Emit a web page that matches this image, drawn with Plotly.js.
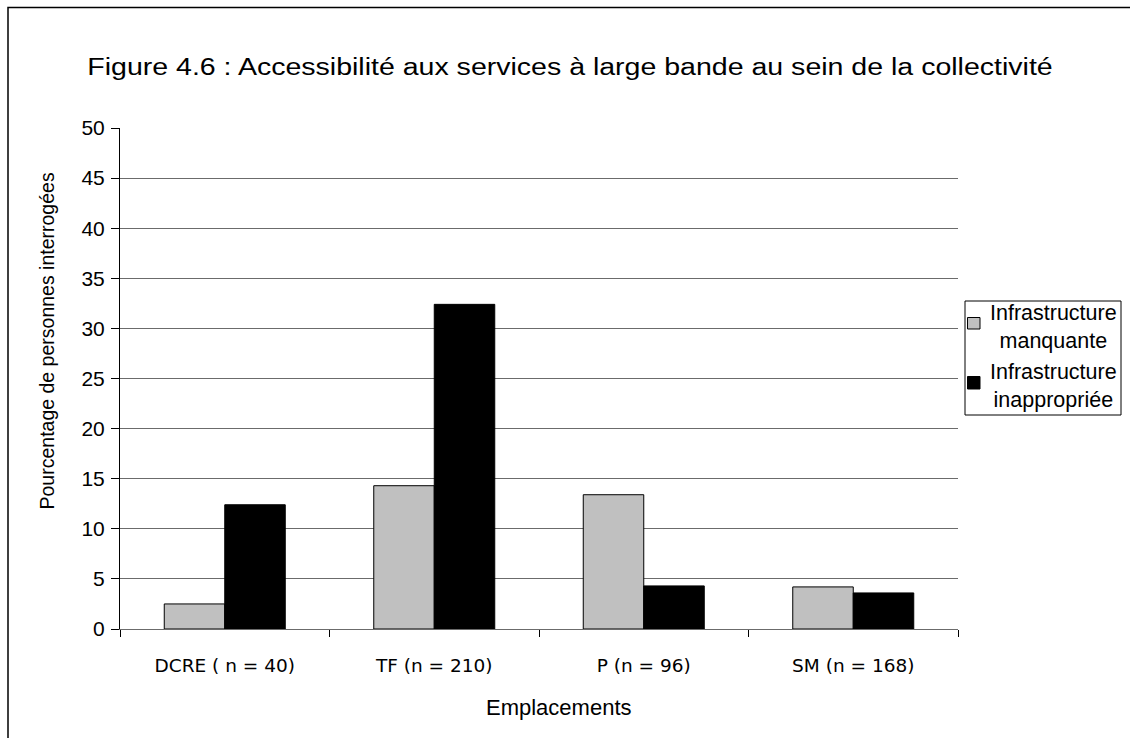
<!DOCTYPE html>
<html>
<head>
<meta charset="utf-8">
<script src="https://cdn.plot.ly/plotly-3.0.1.min.js"></script>
<style>
  html, body { margin: 0; padding: 0; background: #ffffff; }
  #chart { width: 1130px; height: 738px; }
</style>
</head>
<body>
<div id="chart"></div>
<script>
// ---- data ----
const categories = ['DCRE ( n = 40)', 'TF (n = 210)', 'P (n = 96)', 'SM (n = 168)'];
const manquante = [2.5, 14.3, 13.4, 4.2];
const inappropriee = [12.4, 32.4, 4.3, 3.6];
const seriesNames = ['Infrastructure manquante', 'Infrastructure inappropriée'];
const legendLabels = ['Infrastructure<br>manquante', 'Infrastructure<br>inappropriée'];
const yTickVals = [0, 5, 10, 15, 20, 25, 30, 35, 40, 45, 50];
const titleText = 'Figure 4.6 : Accessibilité aux services à large bande au sein de la collectivité';
const xTitleText = 'Emplacements';
const yTitleText = 'Pourcentage de personnes interrogées';

// ---- layout geometry ----
const W = 1130, H = 738;
const ML = 120, MR = 172, MT = 128, MB = 109;
const PW = W - ML - MR, PH = H - MT - MB;
const px = v => (v - ML) / PW;          // page pixel x -> paper x
const py = v => (MT + PH - v) / PH;     // page pixel y -> paper y

const sans = 'Liberation Sans, Arial, Helvetica, sans-serif';
const tickFont = 'DejaVu Sans, Verdana, sans-serif';
const colors = ['#c0c0c0', '#000000'];

const traces = [
  {
    type: 'bar', name: seriesNames[0], x: categories, y: manquante,
    marker: { color: colors[0], line: { color: '#000000', width: 1 } },
    showlegend: false, hoverinfo: 'x+y'
  },
  {
    type: 'bar', name: seriesNames[1], x: categories, y: inappropriee,
    marker: { color: colors[1], line: { color: '#000000', width: 1 } },
    showlegend: false, hoverinfo: 'x+y'
  }
];

const shapes = [
  // outer frame (top and left edges visible)
  { type: 'path', xref: 'paper', yref: 'paper',
    path: `M ${px(8)} ${py(745)} L ${px(8)} ${py(7.5)} L ${px(1140)} ${py(7.5)}`,
    line: { color: '#000000', width: 1.5 } },
  // legend box
  { type: 'rect', xref: 'paper', yref: 'paper',
    x0: px(965), x1: px(1121), y0: py(301), y1: py(415),
    line: { color: '#000000', width: 1 }, fillcolor: 'rgba(0,0,0,0)' },
  // legend swatches
  { type: 'rect', xref: 'paper', yref: 'paper',
    x0: px(967.5), x1: px(980), y0: py(317.5), y1: py(329),
    line: { color: '#000000', width: 1 }, fillcolor: colors[0] },
  { type: 'rect', xref: 'paper', yref: 'paper',
    x0: px(967.5), x1: px(980), y0: py(376.5), y1: py(389),
    line: { color: '#000000', width: 1 }, fillcolor: colors[1] }
];

const legendY = [327, 386];
const annotations = [];
legendLabels.forEach((t, i) => {
  annotations.push({
    xref: 'paper', yref: 'paper', x: px(1053), y: py(legendY[i]),
    xanchor: 'center', yanchor: 'middle', align: 'center', showarrow: false, text: t,
    font: { family: sans, size: 21.5, color: '#000000' }
  });
});
annotations.push({
  xref: 'paper', yref: 'paper', x: px(558.5), y: py(707),
  xanchor: 'center', yanchor: 'middle', showarrow: false, text: xTitleText,
  font: { family: sans, size: 22, color: '#000000' }
});
annotations.push({
  xref: 'paper', yref: 'paper', x: px(46), y: py(341.5),
  xanchor: 'center', yanchor: 'middle', showarrow: false, text: yTitleText,
  textangle: -90,
  font: { family: sans, size: 19.5, color: '#000000' }
});

const layout = {
  width: W, height: H,
  margin: { l: ML, r: MR, t: MT, b: MB, pad: 0 },
  paper_bgcolor: '#ffffff', plot_bgcolor: '#ffffff',
  title: {
    text: titleText, xref: 'paper', x: px(570), xanchor: 'center',
    yref: 'container', y: 1 - 66 / H, yanchor: 'middle',
    font: { family: sans, size: 24.5, color: '#000000' }
  },
  barmode: 'group', bargap: 0.4224, bargroupgap: 0,
  showlegend: false,
  xaxis: {
    type: 'category', tickson: 'boundaries',
    showgrid: false, zeroline: false,
    showline: true, linecolor: '#6b6b6b', linewidth: 1,
    ticks: 'outside', ticklen: 7, tickcolor: '#000000', tickwidth: 1,
    ticklabelstandoff: 20,
    tickfont: { family: tickFont, size: 18.5, color: '#000000' },
    fixedrange: true
  },
  yaxis: {
    range: [0, 50], tickmode: 'array', tickvals: yTickVals,
    showgrid: true, gridcolor: '#6b6b6b', gridwidth: 1, zeroline: false,
    showline: true, linecolor: '#000000', linewidth: 1,
    ticks: 'outside', ticklen: 8, tickcolor: '#000000', tickwidth: 1,
    ticklabelstandoff: 2,
    tickfont: { family: sans, size: 21, color: '#000000' },
    fixedrange: true
  },
  shapes: shapes,
  annotations: annotations
};

Plotly.newPlot('chart', traces, layout, { displayModeBar: false, staticPlot: true }).then(() => {
  // the reference title is drawn horizontally stretched: widen it to the same span
  const t = document.querySelector('#chart .gtitle');
  if (t) {
    const bb = t.getBBox();
    const target = 966;
    const s = target / bb.width;
    const cx = bb.x + bb.width / 2;
    const prev = t.getAttribute('transform') || '';
    t.setAttribute('transform', `${prev} translate(${cx},0) scale(${s},1) translate(${-cx},0)`);
  }
});
</script>
</body>
</html>
